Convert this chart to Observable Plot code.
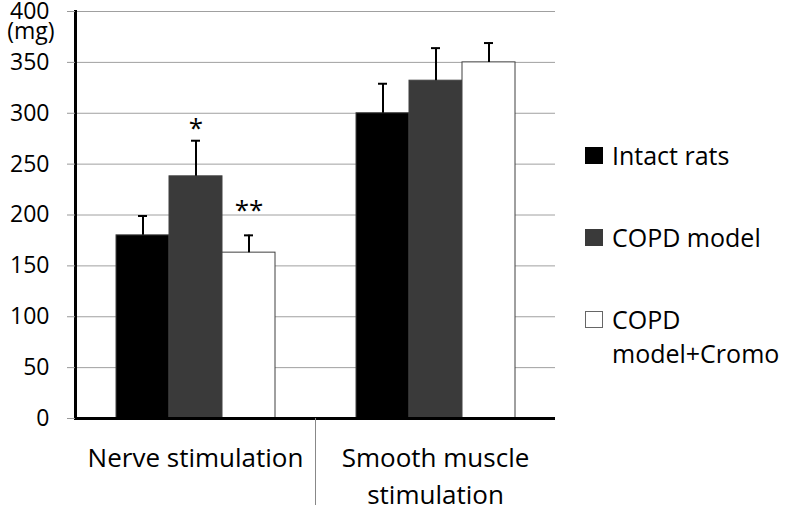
<!DOCTYPE html>
<html><head><meta charset="utf-8">
<script src="https://cdn.jsdelivr.net/npm/d3@7"></script>
<script src="https://cdn.jsdelivr.net/npm/@observablehq/plot@0.6"></script>
<style>
html,body{margin:0;padding:0;background:#fff;overflow:hidden;}
#wrap{position:relative;width:787px;height:505px;font-family:'Open Sans',sans-serif;color:#000;}
#wrap svg{position:absolute;left:0;top:0;}
.item{position:absolute;left:585px;width:202px;display:flex;align-items:flex-start;font-size:25px;line-height:34px;}
.sw{width:18px;height:17px;box-sizing:border-box;margin-top:9px;margin-right:9px;flex:none;}
.lab{white-space:normal;width:175px;}
</style></head><body><div id="wrap"></div>
<script>
const categories = ["Nerve stimulation", "Smooth muscle stimulation"];
const series = ["Intact rats", "COPD model", "COPD model+Cromo"];
const nerveMeans = [180, 238, 163];
const nerveSD = [19, 35, 17];
const smoothMeans = [300, 332, 350];
const smoothSD = [29, 32, 19];
const nerveMarks = ["", "*", "**"];
const smoothMarks = ["", "", ""];
const yTicks = [0, 50, 100, 150, 200, 250, 300, 350, 400];
const colors = ["#000000", "#3a3a3a", "#ffffff"];

const means = [nerveMeans, smoothMeans];
const sds = [nerveSD, smoothSD];
const sig = [nerveMarks, smoothMarks];
const rows = [];
categories.forEach((c, ci) => series.forEach((s, si) => rows.push({
  category: c, series: s, value: means[ci][si], sd: sds[ci][si], top: means[ci][si] + sds[ci][si], mark: sig[ci][si]
})));

const chart = Plot.plot({
  width: 787, height: 505,
  marginLeft: 74, marginRight: 232, marginTop: 11, marginBottom: 87,
  style: {fontFamily: "'Open Sans', sans-serif", fontSize: "23px", color: "#000", background: "transparent", overflow: "visible"},
  fx: {domain: categories, padding: 0, label: null, axis: null},
  x: {domain: series, paddingInner: 0, paddingOuter: 0.764, axis: null},
  y: {domain: [0, 400], label: null, axis: null},
  color: {domain: series, range: colors},
  marks: [
    Plot.gridY(yTicks, {stroke: "#a0a0a0", strokeOpacity: 1, strokeWidth: 1}),
    Plot.barY(rows, {fx: "category", x: "series", y: "value", fill: "series", stroke: "#404040", strokeWidth: 1}),
    Plot.ruleX(rows, {fx: "category", x: "series", y1: "value", y2: "top", stroke: "#000", strokeWidth: 2}),
    Plot.tickY(rows, {fx: "category", x: "series", y: "top", insetLeft: 22, insetRight: 22, stroke: "#000", strokeWidth: 2}),
    Plot.text(rows.filter(d => d.mark === "*"), {fx: "category", x: "series", y: "top", text: "mark", dy: -4, fontSize: 26, lineAnchor: "bottom"}),
    Plot.text(rows.filter(d => d.mark === "**"), {fx: "category", x: "series", y: "top", text: "mark", dy: -16, fontSize: 26, lineAnchor: "bottom"}),
    Plot.ruleY([0], {stroke: "#000", strokeWidth: 3}),
    Plot.frame({anchor: "left", facetAnchor: "left", stroke: "#000", strokeWidth: 3}),
    Plot.axisY({ticks: yTicks, tickSize: 8, tickPadding: 18, stroke: "#999", label: null, fontSize: 23}),
    Plot.axisY({ticks: [400], tickFormat: () => "(mg)", tickSize: 0, tickPadding: 21, dy: 20, label: null, fontSize: 23}),
    Plot.axisFx({anchor: "bottom", tickSize: 0, tickPadding: 22, fontSize: 26, label: null, lineHeight: 1.42,
      tickFormat: d => d === categories[1] ? "Smooth muscle\nstimulation" : d}),
    Plot.axisFx({anchor: "bottom", ticks: [categories[0]], tickFormat: () => "", tickSize: 87, dx: 120, stroke: "#888", label: null})
  ]
});
const wrap = document.getElementById("wrap");
wrap.appendChild(chart);

series.forEach((s, i) => {
  const item = document.createElement("div");
  item.className = "item";
  item.style.top = (138 + i * 82) + "px";
  const sw = document.createElement("div");
  sw.className = "sw";
  sw.style.background = colors[i];
  sw.style.border = i === 2 ? "1px solid #666" : "none";
  const lab = document.createElement("div");
  lab.className = "lab";
  lab.textContent = s;
  item.appendChild(sw); item.appendChild(lab);
  wrap.appendChild(item);
});
</script></body></html>
